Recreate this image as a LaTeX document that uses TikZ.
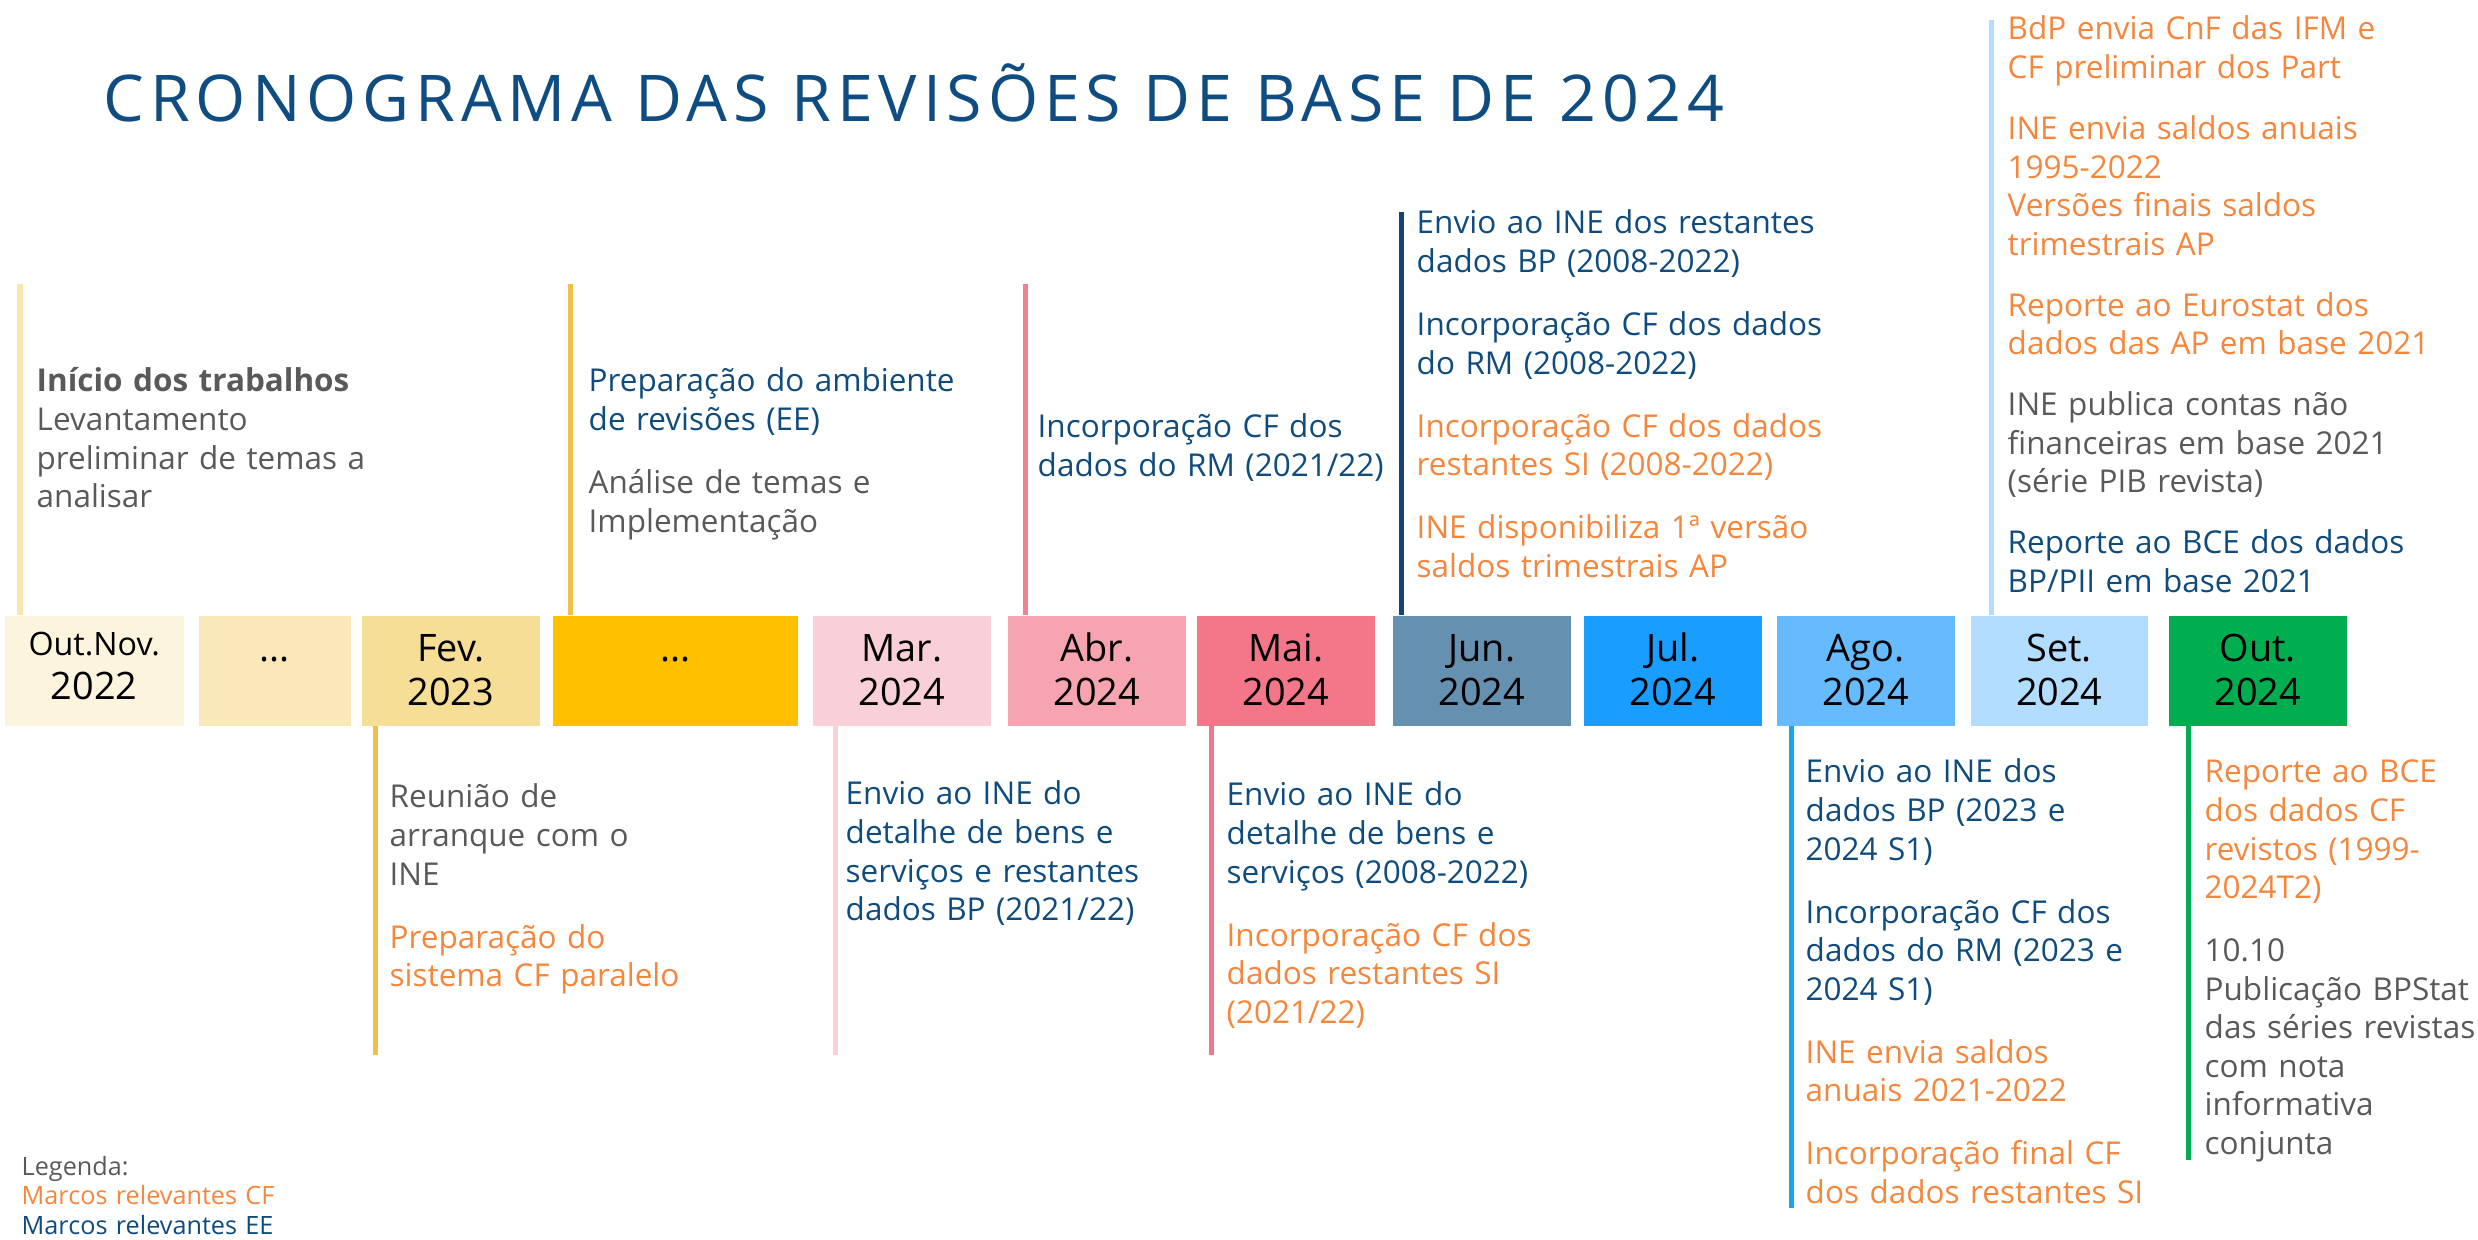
\documentclass[tikz,border=0pt]{standalone}
\usepackage{fontspec}
\setmainfont{Open Sans}
\newfontfamily\titlefont[LetterSpace=9.1]{Open Sans}
\usepackage{tikz}
\usetikzlibrary{positioning}

\definecolor{eeblue}{HTML}{0F4B7D}
\definecolor{cforange}{HTML}{F5863C}
\definecolor{txtgray}{HTML}{595959}
\definecolor{titleblue}{HTML}{0F4C81}
% box fills
\definecolor{mnov}{HTML}{FDF4DE}
\definecolor{mdotsa}{HTML}{FAE8BA}
\definecolor{mfeb}{HTML}{F6DE96}
\definecolor{mdotsb}{HTML}{FFC000}
\definecolor{mmar}{HTML}{FAD0D8}
\definecolor{mapr}{HTML}{F7A4B1}
\definecolor{mmay}{HTML}{F47789}
\definecolor{mjun}{HTML}{6690B0}
\definecolor{mjul}{HTML}{199DFF}
\definecolor{maug}{HTML}{66BBFF}
\definecolor{msep}{HTML}{B3DDFF}
\definecolor{moct}{HTML}{00AE50}
% stems
\definecolor{lnov}{HTML}{F9E5AE}
\definecolor{lgold}{HTML}{F0C14A}
\definecolor{lapr}{HTML}{F2808F}
\definecolor{ljun}{HTML}{0F4478}
\definecolor{laug}{HTML}{17A6E6}

\begin{document}
\begin{tikzpicture}[x=0.01cm, y=-0.01cm]
        \tikzset{
            month/.style={
                    fill=#1, inner sep=0pt, anchor=north west, align=center,
                    text height=0.46cm, text depth=0.64cm,
                    font=\fontsize{10.76}{12.52}\selectfont
                },
            stem/.style={draw=#1, line width=0.05cm},
            note/.style={
                    anchor=base west, inner sep=0pt, text width=5cm, align=left,
                    font=\fontsize{8.95}{10.95}\selectfont, text=txtgray
                }
        }
        \useasboundingbox (0,0) rectangle (2478,1240);

        \node[anchor=base west, inner sep=0pt, text=titleblue, font=\titlefont\fontsize{18.33}{22}\selectfont] (title) at (103,122) {CRONOGRAMA DAS REVISÕES DE BASE DE 2024};

        % month boxes
        \node[month=mnov, text width=1.79cm, text height=0.40cm, text depth=0.70cm] (nov22) at (4,615) {{\fontsize{9.17}{12.52}\selectfont Out.Nov.}\\2022};
        \node[month=mdotsa, text width=1.52cm] (dotsa) at (198,615) {...};
        \node[month=mfeb, text width=1.78cm] (feb23) at (361,615) {Fev.\\2023};
        \node[month=mdotsb, text width=2.45cm] (dotsb) at (552,615) {...};
        \node[month=mmar, text width=1.78cm] (mar24) at (812,615) {Mar.\\2024};
        \node[month=mapr, text width=1.78cm] (apr24) at (1007,615) {Abr.\\2024};
        \node[month=mmay, text width=1.78cm] (may24) at (1196,615) {Mai.\\2024};
        \node[month=mjun, text width=1.78cm] (jun24) at (1392,615) {Jun.\\2024};
        \node[month=mjul, text width=1.78cm] (jul24) at (1583,615) {Jul.\\2024};
        \node[month=maug, text width=1.78cm] (aug24) at (1776,615) {Ago.\\2024};
        \node[month=msep, text width=1.77cm] (sep24) at (1970,615) {Set.\\2024};
        \node[month=moct, text width=1.78cm] (oct24) at (2168,615) {Out.\\2024};

        % stems above
        \coordinate (nov22 top) at (20,284);
        \coordinate (dotsb top) at (570,284);
        \coordinate (apr24 top) at (1025,284);
        \coordinate (jun24 top) at (1401,212);
        \coordinate (sep24 top) at (1991,20);
        \draw[stem=lnov] (nov22 top) -- (nov22 top |- nov22.north);
        \draw[stem=lgold] (dotsb top) -- (dotsb top |- dotsb.north);
        \draw[stem=lapr] (apr24 top) -- (apr24 top |- apr24.north);
        \draw[stem=ljun] (jun24 top) -- (jun24 top |- jun24.north);
        \draw[stem=msep] (sep24 top) -- (sep24 top |- sep24.north);

        % stems below
        \coordinate (feb23 end) at (375,1055);
        \coordinate (mar24 end) at (835,1055);
        \coordinate (may24 end) at (1211,1055);
        \coordinate (aug24 end) at (1791,1208);
        \coordinate (oct24 end) at (2188,1160);
        \draw[stem=lgold] (feb23 end |- feb23.south) -- (feb23 end);
        \draw[stem=mmar] (mar24 end |- mar24.south) -- (mar24 end);
        \draw[stem=mmay] (may24 end |- may24.south) -- (may24 end);
        \draw[stem=laug] (aug24 end |- aug24.south) -- (aug24 end);
        \draw[stem=moct] (oct24 end |- oct24.south) -- (oct24 end);

        % notes above
        \node[note] (nov22 txt) at (36,392) {{\bfseries Início dos trabalhos}\\Levantamento\\preliminar de temas a\\analisar};
        \node[note] (dotsb txt) at (588,392) {\color{eeblue}Preparação do ambiente\\de revisões (EE)\\[7pt]\color{txtgray}Análise de temas e\\Implementação};
        \node[note, text=eeblue] (apr24 txt) at (1037,438) {Incorporação CF dos\\dados do RM (2021/22)};
        \node[note, text=eeblue] (jun24 txt) at (1416,234) {Envio ao INE dos restantes\\dados BP (2008-2022)\\[7pt]Incorporação CF dos dados\\do RM (2008-2022)\\[7pt]\color{cforange}Incorporação CF dos dados\\restantes SI (2008-2022)\\[7pt]INE disponibiliza 1ª versão\\saldos trimestrais AP};
        \node[note, text=cforange] (sep24 txt) at (2007,40) {BdP envia CnF das IFM e\\CF preliminar dos Part\\[6.4pt]INE envia saldos anuais\\1995-2022\\Versões finais saldos\\trimestrais AP\\[6.4pt]Reporte ao Eurostat dos\\dados das AP em base 2021\\[6.4pt]\color{txtgray}INE publica contas não\\financeiras em base 2021\\(série PIB revista)\\[6.4pt]\color{eeblue}Reporte ao BCE dos dados\\BP/PII em base 2021};

        % notes below
        \node[note] (feb23 txt) at (389,808) {Reunião de\\arranque com o\\INE\\[7pt]\color{cforange}Preparação do\\sistema CF paralelo};
        \node[note, text=eeblue] (mar24 txt) at (845,805) {Envio ao INE do\\detalhe de bens e\\serviços e restantes\\dados BP (2021/22)};
        \node[note, text=eeblue] (may24 txt) at (1226,806) {Envio ao INE do\\detalhe de bens e\\serviços (2008-2022)\\[7pt]\color{cforange}Incorporação CF dos\\dados restantes SI\\(2021/22)};
        \node[note, text=eeblue] (aug24 txt) at (1805,783) {Envio ao INE dos\\dados BP (2023 e\\2024 S1)\\[7pt]Incorporação CF dos\\dados do RM (2023 e\\2024 S1)\\[7pt]\color{cforange}INE envia saldos\\anuais 2021-2022\\[7pt]Incorporação final CF\\dos dados restantes SI};
        \node[note, text=cforange] (oct24 txt) at (2204,783) {Reporte ao BCE\\dos dados CF\\revistos (1999-\\2024T2)\\[7pt]\color{txtgray}10.10\\Publicação BPStat\\das séries revistas\\com nota\\informativa\\conjunta};

        % legend
        \node[note, font=\fontsize{7.17}{8.5}\selectfont] (legend) at (21,1175) {Legenda:\\\color{cforange}Marcos relevantes CF\\\color{eeblue}Marcos relevantes EE};
    \end{tikzpicture}
\end{document}
